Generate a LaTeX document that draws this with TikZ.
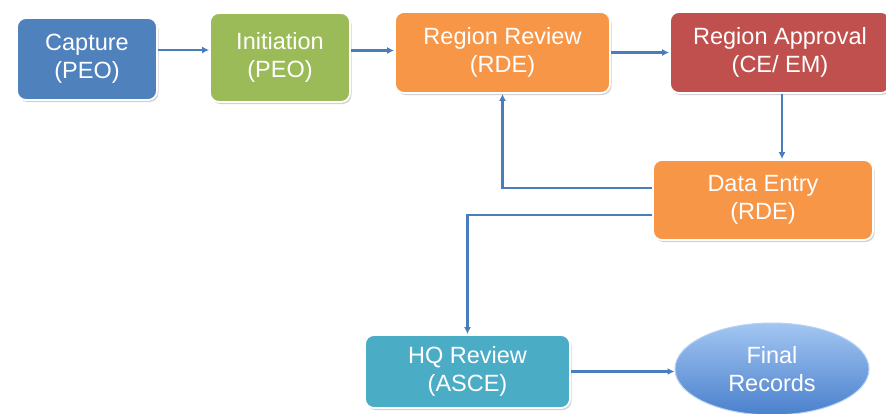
\documentclass[tikz,border=0pt]{standalone}
\usepackage{fontspec}
\setmainfont{Liberation Sans}
\usetikzlibrary{shapes.geometric,shadows,arrows.meta}
\definecolor{cblue}{HTML}{4F81BD}
\definecolor{cgreen}{HTML}{9BBB59}
\definecolor{corange}{HTML}{F79646}
\definecolor{cred}{HTML}{C0504D}
\definecolor{cteal}{HTML}{4BACC6}
\definecolor{lineblue}{HTML}{4A7EBB}
\definecolor{elltop}{HTML}{A3C6F2}
\definecolor{ellbot}{HTML}{4A80CC}
\begin{document}
\begin{tikzpicture}[x=1pt,y=-1pt,
  box/.style={rectangle, rounded corners=9pt, draw=white, line width=1.8pt,
    text=white, align=center, inner sep=0pt,
    font=\fontsize{23.5}{28}\selectfont,
    drop shadow={shadow xshift=1.5pt, shadow yshift=-2pt, opacity=0.35, fill=gray}},
  arr/.style={draw=lineblue, line width=2.6pt, -{Latex[length=7pt,width=7pt]}}]
\useasboundingbox (0,0) rectangle (886,413);
\fill[white] (0,0) rectangle (886,413);
\node[box, fill=cblue, minimum width=140pt, minimum height=82pt] (cap) at (87,59) {Capture\\(PEO)};
\node[box, fill=cgreen, minimum width=140pt, minimum height=89pt] (init) at (280,57.5) {Initiation\\(PEO)};
\node[box, fill=corange, minimum width=215pt, minimum height=81pt] (rr) at (502.5,52.5) {Region Review\\(RDE)};
\node[box, fill=cred, minimum width=220pt, minimum height=81pt] (ra) at (780,52.5) {Region Approval\\(CE/ EM)};
\node[box, fill=corange, minimum width=220pt, minimum height=80pt] (de) at (763,200) {Data Entry\\(RDE)};
\node[box, fill=cteal, minimum width=205pt, minimum height=73pt] (hq) at (467.5,371.5) {HQ Review\\(ASCE)};
\node[ellipse, draw=elltop!80!white, line width=1pt, top color=elltop, bottom color=ellbot,
  text=white, align=center, inner sep=0pt, minimum width=194pt, minimum height=92pt,
  font=\fontsize{23.5}{28}\selectfont] (fin) at (772,369) {Final\\Records};
\draw[arr] ([yshift=9pt]cap.east) -- ([yshift=9pt]cap.east -| init.west);
\draw[arr] ([yshift=2pt]init.east |- rr.west) -- ([yshift=2pt]rr.west);
\draw[arr] (rr.east) -- (rr.east -| ra.west);
\draw[arr] ([xshift=2pt]ra.south) -- ([xshift=2pt]ra.south |- de.north);
\draw[arr] ([yshift=12pt]de.west) -| (rr.south);
\draw[arr] ([yshift=-15pt]de.west) -| (hq.north);
\draw[arr] (hq.east) -- (hq.east -| fin.west);
\end{tikzpicture}
\end{document}
